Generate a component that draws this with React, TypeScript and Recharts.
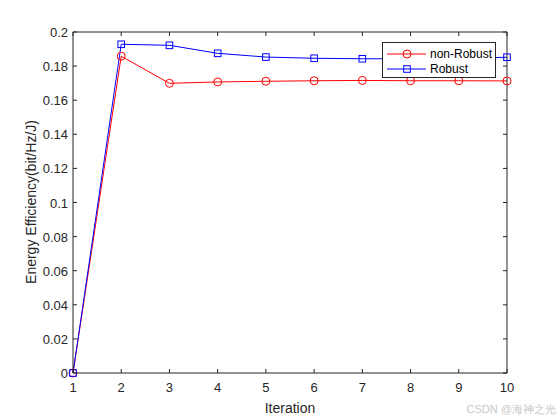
import { LineChart, Line, XAxis, YAxis } from "recharts";

// values
const iterations = [1, 2, 3, 4, 5, 6, 7, 8, 9, 10];
const nonRobust = [0, 0.1858, 0.1699, 0.1707, 0.1711, 0.1714, 0.1716, 0.1714, 0.1714, 0.1713];
const robust = [0, 0.1928, 0.1922, 0.1875, 0.1853, 0.1846, 0.1843, 0.1843, 0.1844, 0.1852];
const xTicks = [1, 2, 3, 4, 5, 6, 7, 8, 9, 10];
const yTicks = [0, 0.02, 0.04, 0.06, 0.08, 0.1, 0.12, 0.14, 0.16, 0.18, 0.2];

const data = iterations.map((it, i) => ({
  it,
  nonRobust: nonRobust[i],
  robust: robust[i],
}));

const AX = "#262626";
const FONT = '"Liberation Sans", Arial, sans-serif';
const TICK = 4;

const BottomTick = (p: any) => (
  <g>
    <line x1={p.x} x2={p.x} y1={p.y} y2={p.y - TICK} stroke={AX} />
    <text x={p.x} y={p.y + 19} textAnchor="middle" fontSize={13} fill={AX} fontFamily={FONT}>
      {p.payload.value}
    </text>
  </g>
);

const TopTick = (p: any) => (
  <line x1={p.x} x2={p.x} y1={p.y} y2={p.y + TICK} stroke={AX} />
);

const LeftTick = (p: any) => (
  <g>
    <line x1={p.x} x2={p.x + TICK} y1={p.y} y2={p.y} stroke={AX} />
    <text x={p.x - 5} y={p.y + 5} textAnchor="end" fontSize={13} fill={AX} fontFamily={FONT}>
      {String(p.payload.value)}
    </text>
  </g>
);

const RightTick = (p: any) => (
  <line x1={p.x} x2={p.x - TICK} y1={p.y} y2={p.y} stroke={AX} />
);

const CircleDot = (p: any) => (
  <circle key={p.index} cx={p.cx} cy={p.cy} r={4} fill="none" stroke="#ff0000" strokeWidth={1} />
);

const SquareDot = (p: any) => (
  <rect key={p.index} x={p.cx - 3.3} y={p.cy - 3.3} width={6.6} height={6.6} fill="none" stroke="#0000ff" strokeWidth={1} />
);

const LegendBox = () => (
  <div
    style={{
      position: "absolute",
      left: 382,
      top: 42,
      width: 112,
      height: 34,
      border: `1px solid ${AX}`,
      background: "#fff",
    }}
  >
    <svg width={112} height={34} style={{ display: "block" }}>
      <line x1={4} x2={43} y1={11} y2={11} stroke="#ff0000" />
      <circle cx={24} cy={11} r={4} fill="none" stroke="#ff0000" />
      <text x={47} y={15} fontSize={12} fontFamily={FONT}>non-Robust</text>
      <line x1={4} x2={43} y1={26} y2={26} stroke="#0000ff" />
      <rect x={20.7} y={22.7} width={6.6} height={6.6} fill="none" stroke="#0000ff" />
      <text x={47} y={30} fontSize={12} fontFamily={FONT}>Robust</text>
    </svg>
  </div>
);

export default function App() {
  return (
    <div style={{ position: "absolute", left: 0, top: 0, width: 560, height: 420, background: "#fff" }}>
      <LineChart
        width={560}
        height={420}
        data={data}
        margin={{ top: 31, right: 52, bottom: 0, left: 0 }}
      >
        <XAxis
          dataKey="it"
          type="number"
          domain={[1, 10]}
          ticks={xTicks}
          interval={0}
          height={47}
          tickSize={0}
          tickMargin={0}
          tickLine={false}
          axisLine={{ stroke: AX }}
          tick={BottomTick}
          label={() => (
            <text x={290} y={413} textAnchor="middle" fontSize={14} fill={AX} fontFamily={FONT}>
              Iteration
            </text>
          )}
        />
        <XAxis
          xAxisId="top"
          dataKey="it"
          orientation="top"
          type="number"
          domain={[1, 10]}
          ticks={xTicks}
          interval={0}
          height={1}
          tickSize={0}
          tickMargin={0}
          tickLine={false}
          axisLine={{ stroke: AX }}
          tick={TopTick}
        />
        <YAxis
          type="number"
          domain={[0, 0.2]}
          ticks={yTicks}
          interval={0}
          width={73}
          tickSize={0}
          tickMargin={0}
          tickLine={false}
          axisLine={{ stroke: AX }}
          tick={LeftTick}
          label={() => (
            <text
              x={0}
              y={0}
              transform="translate(36, 202) rotate(-90)"
              textAnchor="middle"
              fontSize={14}
              fill={AX}
              fontFamily={FONT}
            >
              Energy Efficiency(bit/Hz/J)
            </text>
          )}
        />
        <YAxis
          yAxisId="right"
          orientation="right"
          type="number"
          domain={[0, 0.2]}
          ticks={yTicks}
          interval={0}
          width={1}
          tickSize={0}
          tickMargin={0}
          tickLine={false}
          axisLine={{ stroke: AX }}
          tick={RightTick}
        />
        {/* invisible series so the box axes on top and right get drawn */}
        <Line
          xAxisId="top"
          yAxisId="right"
          dataKey="robust"
          stroke="none"
          dot={false}
          activeDot={false}
          legendType="none"
          isAnimationActive={false}
        />
        <Line
          dataKey="nonRobust"
          name="non-Robust"
          stroke="#ff0000"
          strokeWidth={1}
          dot={CircleDot}
          isAnimationActive={false}
        />
        <Line
          dataKey="robust"
          name="Robust"
          stroke="#0000ff"
          strokeWidth={1}
          dot={SquareDot}
          isAnimationActive={false}
        />
      </LineChart>
      <LegendBox />
      <div
        style={{
          position: "absolute",
          right: 4,
          top: 402,
          fontSize: 11,
          color: "#c8c8c8",
          fontFamily: FONT,
        }}
      >
        CSDN @海神之光
      </div>
    </div>
  );
}
